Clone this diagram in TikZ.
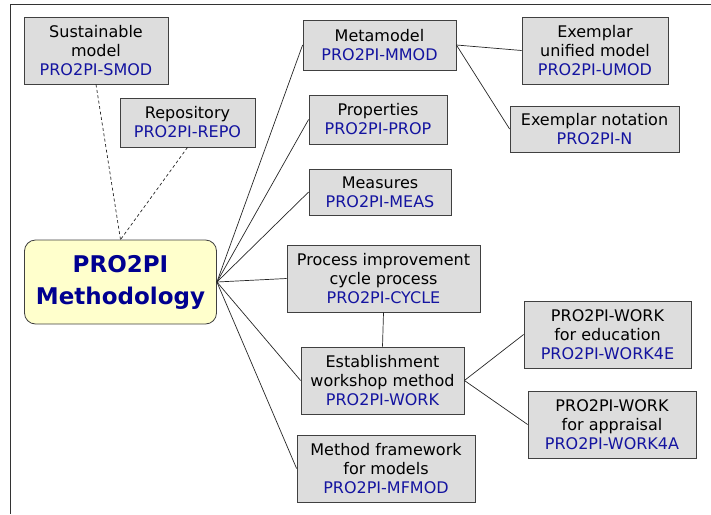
\documentclass[tikz,border=0pt]{standalone}
\usepackage{fontspec}
\setmainfont{DejaVu Sans}
\definecolor{boxgray}{HTML}{DDDDDD}
\definecolor{codeblue}{HTML}{1414A0}
\definecolor{methblue}{HTML}{000090}
\definecolor{methyellow}{HTML}{FFFFCC}
\newcommand{\code}[1]{\textcolor{codeblue}{#1}}
\tikzset{
  part/.style={draw=black!75, fill=boxgray, align=center, inner sep=0pt,
    line width=0.8pt, font=\fontsize{16}{19}\selectfont},
  hub/.style={draw=black!75, fill=methyellow, rounded corners=11pt, align=center,
    inner sep=0pt, line width=0.8pt, text=methblue, font=\fontsize{23}{32}\selectfont\bfseries},
  link/.style={black!85, line width=0.7pt}
}
\begin{document}
\begin{tikzpicture}[x=1pt, y=-1pt]
  \useasboundingbox (0,0) rectangle (711,514);
  % frame
  \draw[black!80, line width=1pt] (711,4) -- (10,4) -- (10,514);
  % centre
  \node[hub, minimum width=192, minimum height=84] (meth) at (120.5,282) {PRO2PI\\Methodology};
  % side parts
  \node[part, minimum width=144, minimum height=67] (smod) at (96,50.5) {Sustainable\\model\\\code{PRO2PI-SMOD}};
  \node[part, minimum width=135, minimum height=49] (repo) at (187.5,122.5) {Repository\\\code{PRO2PI-REPO}};
  % main parts
  \node[part, minimum width=153, minimum height=50] (mmod) at (379.5,45) {Metamodel\\\code{PRO2PI-MMOD}};
  \node[part, minimum width=138, minimum height=49] (prop) at (378,119.5) {Properties\\\code{PRO2PI-PROP}};
  \node[part, minimum width=142, minimum height=46] (meas) at (380,192) {Measures\\\code{PRO2PI-MEAS}};
  \node[part, minimum width=193, minimum height=67] (cycle) at (383.5,278.5) {Process improvement\\cycle process\\\code{PRO2PI-CYCLE}};
  \node[part, minimum width=163, minimum height=67] (work) at (382.5,380.5) {Establishment\\workshop method\\\code{PRO2PI-WORK}};
  \node[part, minimum width=178, minimum height=67] (mfmod) at (386,468.5) {Method framework\\for models\\\code{PRO2PI-MFMOD}};
  % exemplars
  \node[part, minimum width=146, minimum height=67] (umod) at (595,50.5) {Exemplar\\unified model\\\code{PRO2PI-UMOD}};
  \node[part, minimum width=169, minimum height=46] (notation) at (594.5,129) {Exemplar notation\\\code{PRO2PI-N}};
  % workshop variants
  \node[part, minimum width=167, minimum height=67] (work4e) at (607.5,334.5) {PRO2PI-WORK\\for education\\\code{PRO2PI-WORK4E}};
  \node[part, minimum width=168, minimum height=67] (work4a) at (612,424.5) {PRO2PI-WORK\\for appraisal\\\code{PRO2PI-WORK4A}};
  % links
  \foreach \t in {smod,repo}
    \draw[link, dash pattern=on 3pt off 2.5pt] (\t.south) -- (meth.north);
  \foreach \t in {mmod,prop,meas,cycle,work,mfmod}
    \draw[link] (meth.east) -- (\t.west);
  \foreach \t in {umod,notation}
    \draw[link] (mmod.east) -- (\t.west);
  \foreach \t in {work4e,work4a}
    \draw[link] (work.east) -- (\t.west);
  \draw[link] (cycle.south) -- (work.north);
\end{tikzpicture}
\end{document}
